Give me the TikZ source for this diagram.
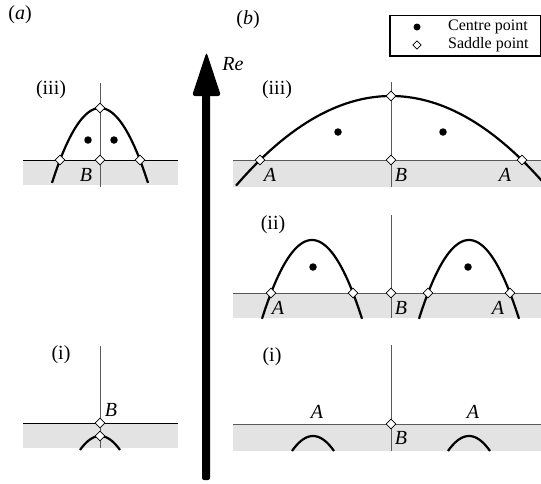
\documentclass[tikz,border=0pt]{standalone}
\usepackage{fontspec}
\setmainfont{Liberation Serif}
\usetikzlibrary{shapes.geometric}
\tikzset{
  greyband/.style={fill=black!11, draw=none},
  thinb/.style={draw=black!65, line width=0.9pt},
  thina/.style={draw=black, line width=0.9pt},
  vline/.style={draw=black!65, line width=0.8pt},
  curve/.style={draw=black, line width=2.2pt},
  saddle/.style={diamond, draw=black, fill=white, line width=0.7pt, minimum width=10pt, minimum height=10pt, inner sep=0pt},
  centre/.style={circle, fill=black, minimum size=7.5pt, inner sep=0pt},
  lbl/.style={font=\fontsize{20}{24}\selectfont, inner sep=0pt},
  ilbl/.style={font=\fontsize{20}{24}\selectfont\itshape, inner sep=0pt},
  legtxt/.style={font=\fontsize{16}{19}\selectfont, inner sep=0pt, anchor=west},
}
\begin{document}
\begin{tikzpicture}[x=1pt, y=-1pt]
\useasboundingbox (0,0) rectangle (541,483);
\clip (0,0) rectangle (541,483);

% ---------- grey bands ----------
\fill[greyband] (23,160) rectangle (178,185);
\fill[greyband] (23,423) rectangle (178,448);
\fill[greyband] (233,160) rectangle (541,187);
\fill[greyband] (233,293) rectangle (541,318);
\fill[greyband] (233,424) rectangle (541,451);

% ---------- thin lines ----------
\draw[thina] (23,160) -- (178,160);
\draw[vline] (100,83) -- (100,187);
\draw[thina] (23,423) -- (178,423);
\draw[vline] (100,346) -- (100,448);

\draw[thinb] (233,160) -- (541,160);
\draw[vline] (391,82) -- (391,187);
\draw[thinb] (233,293) -- (541,293);
\draw[vline] (391,215) -- (391,318);
\draw[thinb] (233,424) -- (541,424);
\draw[vline] (391,345) -- (391,451);

% ---------- curves ----------
\draw[curve] plot[domain=52:148, samples=50] (\x, {108+(0.1803*(\x-100))^2});
\draw[curve] plot[domain=80:120, samples=30] (\x, {436+(0.187*(\x-100))^2});
\draw[curve] plot[domain=236:546, samples=80] (\x, {96+(0.0611*(\x-391))^2});
\draw[curve] plot[domain=262:362, samples=50] (\x, {240+(0.1775*(\x-312))^2});
\draw[curve] plot[domain=419:519, samples=50] (\x, {240+(0.1775*(\x-469))^2});
\draw[curve] plot[domain=292:334, samples=30] (\x, {436+(0.1844*(\x-313))^2});
\draw[curve] plot[domain=448:490, samples=30] (\x, {436+(0.1844*(\x-469))^2});

% ---------- Re arrow ----------
\fill[rounded corners=2pt] (202,92) -- (202,480) -- (210,480) -- (210,92) -- cycle;
\fill[rounded corners=3pt] (206.5,52) -- (221,96) -- (192,96) -- cycle;
\node[ilbl] (re) at (233,64) {Re};

% ---------- panel labels ----------
\node[lbl] (la) at (20,15) {(\textit{a})};
\node[lbl] (lb) at (248,20) {(\textit{b})};

% (a)(iii)
\node[lbl] (aiii) at (51,90) {(iii)};
\node[ilbl] (aB3) at (86,175) {B};
\node[centre] (ac1) at (88,140) {};
\node[centre] (ac2) at (114,140) {};
\node[saddle] (as1) at (100,108) {};
\node[saddle] (as2) at (60,160) {};
\node[saddle] (as3) at (100,160) {};
\node[saddle] (as4) at (140,160) {};

% (a)(i)
\node[lbl] (ai) at (61,355) {(i)};
\node[ilbl] (aB1) at (111,410) {B};
\node[saddle] (as5) at (100,423) {};
\node[saddle] (as6) at (100,436) {};

% (b)(iii)
\node[lbl] (biii) at (277,90) {(iii)};
\node[ilbl] (bA31) at (270,175) {A};
\node[ilbl] (bB3) at (401,175) {B};
\node[ilbl] (bA32) at (505,175) {A};
\node[centre] (bc1) at (338,132) {};
\node[centre] (bc2) at (443,132) {};
\node[saddle] (bs1) at (391,96) {};
\node[saddle] (bs2) at (260,160) {};
\node[saddle] (bs3) at (391,160) {};
\node[saddle] (bs4) at (522,160) {};

% (b)(ii)
\node[lbl] (bii) at (273,225) {(ii)};
\node[ilbl] (bA21) at (278,308) {A};
\node[ilbl] (bB2) at (401,308) {B};
\node[ilbl] (bA22) at (498,308) {A};
\node[centre] (bc3) at (313,267) {};
\node[centre] (bc4) at (468,267) {};
\node[saddle] (bs5) at (271,293) {};
\node[saddle] (bs6) at (353,293) {};
\node[saddle] (bs7) at (391,293) {};
\node[saddle] (bs8) at (428,293) {};
\node[saddle] (bs9) at (510,293) {};

% (b)(i)
\node[lbl] (bi) at (272,357) {(i)};
\node[ilbl] (bA11) at (317,412) {A};
\node[ilbl] (bA12) at (473,412) {A};
\node[ilbl] (bB1) at (401,438) {B};
\node[saddle] (bs10) at (391,424) {};

% ---------- legend ----------
\draw[line width=1.2pt] (390,15.5) rectangle (540.3,56);
\node[centre, minimum size=7pt] (lgc) at (417,27) {};
\node[saddle, minimum width=8.5pt, minimum height=8.5pt] (lgs) at (417,45) {};
\node[legtxt] (lgct) at (448,27) {Centre point};
\node[legtxt] (lgst) at (448,45) {Saddle point};
\end{tikzpicture}
\end{document}
